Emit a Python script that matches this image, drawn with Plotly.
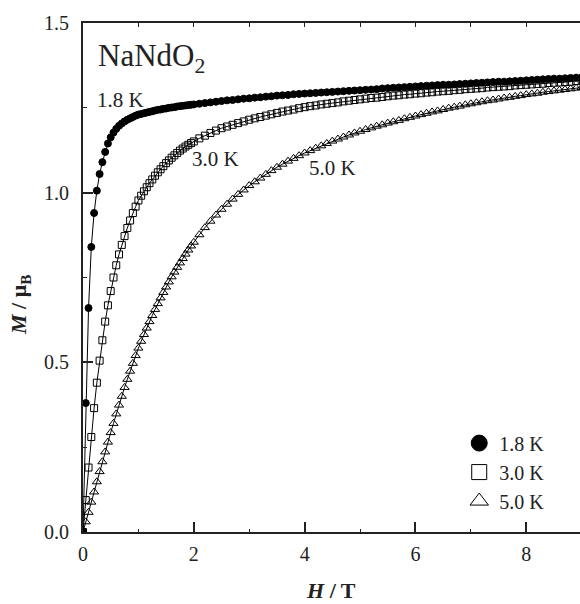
import plotly.graph_objects as go

# Magnetic field grid (T)
H = [0.0, 0.05, 0.1, 0.15, 0.2, 0.25, 0.3, 0.35, 0.4, 0.45, 0.5, 0.55, 0.6, 0.65, 0.7, 0.75, 0.8, 0.85, 0.9, 0.95,
     1.0, 1.05, 1.1, 1.15, 1.2, 1.25, 1.3, 1.35, 1.4, 1.45, 1.5, 1.55, 1.6, 1.65, 1.7, 1.75, 1.8, 1.85, 1.9, 1.95,
     2.0, 2.1, 2.2, 2.3, 2.4, 2.5, 2.6, 2.7, 2.8, 2.9, 3.0, 3.1, 3.2, 3.3, 3.4, 3.5, 3.6, 3.7, 3.8, 3.9,
     4.0, 4.1, 4.2, 4.3, 4.4, 4.5, 4.6, 4.7, 4.8, 4.9, 5.0, 5.1, 5.2, 5.3, 5.4, 5.5, 5.6, 5.7, 5.8, 5.9,
     6.0, 6.1, 6.2, 6.3, 6.4, 6.5, 6.6, 6.7, 6.8, 6.9, 7.0, 7.1, 7.2, 7.3, 7.4, 7.5, 7.6, 7.7, 7.8, 7.9,
     8.0, 8.1, 8.2, 8.3, 8.4, 8.5, 8.6, 8.7, 8.8, 8.9, 9.0]

M_18K = [0.0, 0.38, 0.66, 0.84, 0.94, 1.006, 1.055, 1.09, 1.12, 1.145, 1.163, 1.177, 1.188, 1.197, 1.204, 1.210, 1.215, 1.219, 1.223, 1.227,
         1.230, 1.232, 1.234, 1.236, 1.238, 1.240, 1.242, 1.244, 1.245, 1.247, 1.248, 1.250, 1.251, 1.252, 1.254, 1.255, 1.256, 1.257, 1.258, 1.259,
         1.260, 1.262, 1.264, 1.266, 1.268, 1.270, 1.272, 1.273, 1.275, 1.277, 1.278, 1.280, 1.281, 1.283, 1.284, 1.286, 1.287, 1.288, 1.290, 1.291,
         1.292, 1.293, 1.294, 1.295, 1.296, 1.297, 1.298, 1.299, 1.300, 1.301, 1.302, 1.303, 1.304, 1.305, 1.307, 1.308, 1.309, 1.310, 1.311, 1.312,
         1.313, 1.314, 1.315, 1.316, 1.317, 1.318, 1.318, 1.319, 1.320, 1.321, 1.322, 1.323, 1.324, 1.325, 1.326, 1.327, 1.327, 1.328, 1.329, 1.330,
         1.331, 1.332, 1.333, 1.334, 1.335, 1.336, 1.336, 1.337, 1.338, 1.339, 1.340]

M_30K = [0.0, 0.094, 0.19, 0.28, 0.365, 0.44, 0.505, 0.565, 0.62, 0.668, 0.71, 0.75, 0.786, 0.818, 0.846, 0.872, 0.896, 0.918, 0.94, 0.959,
         0.977, 0.991, 1.004, 1.016, 1.028, 1.039, 1.050, 1.060, 1.069, 1.078, 1.087, 1.095, 1.103, 1.110, 1.117, 1.124, 1.130, 1.136, 1.141, 1.146,
         1.151, 1.160, 1.168, 1.176, 1.183, 1.190, 1.195, 1.200, 1.205, 1.210, 1.215, 1.219, 1.223, 1.227, 1.231, 1.235, 1.239, 1.242, 1.245, 1.249,
         1.252, 1.255, 1.257, 1.260, 1.262, 1.264, 1.266, 1.269, 1.271, 1.273, 1.275, 1.277, 1.279, 1.280, 1.282, 1.284, 1.286, 1.287, 1.289, 1.290,
         1.292, 1.293, 1.295, 1.296, 1.298, 1.299, 1.300, 1.302, 1.303, 1.305, 1.306, 1.307, 1.308, 1.310, 1.311, 1.312, 1.313, 1.314, 1.316, 1.317,
         1.318, 1.319, 1.320, 1.321, 1.323, 1.324, 1.325, 1.326, 1.327, 1.329, 1.330]

M_50K = [0.0, 0.03, 0.058, 0.088, 0.118, 0.148, 0.178, 0.207, 0.236, 0.265, 0.293, 0.32, 0.348, 0.374, 0.40, 0.426, 0.45, 0.474, 0.497, 0.52,
         0.542, 0.562, 0.582, 0.601, 0.620, 0.638, 0.656, 0.673, 0.690, 0.706, 0.722, 0.737, 0.752, 0.766, 0.780, 0.793, 0.806, 0.819, 0.831, 0.843,
         0.854, 0.876, 0.897, 0.916, 0.934, 0.951, 0.966, 0.981, 0.995, 1.008, 1.021, 1.032, 1.043, 1.054, 1.065, 1.075, 1.084, 1.093, 1.101, 1.109,
         1.117, 1.124, 1.131, 1.138, 1.145, 1.152, 1.158, 1.164, 1.170, 1.176, 1.181, 1.186, 1.191, 1.196, 1.200, 1.205, 1.209, 1.213, 1.218, 1.222,
         1.226, 1.230, 1.234, 1.238, 1.241, 1.245, 1.249, 1.252, 1.255, 1.259, 1.262, 1.265, 1.268, 1.271, 1.273, 1.276, 1.279, 1.281, 1.284, 1.286,
         1.289, 1.291, 1.293, 1.296, 1.298, 1.300, 1.302, 1.304, 1.306, 1.308, 1.310]

SERIES_NAMES = ["1.8 K", "3.0 K", "5.0 K"]
X_TICKS = [0, 2, 4, 6, 8]
Y_TICKS = [0.0, 0.5, 1.0, 1.5]
Y_TICK_TEXT = ["0.0", "0.5", "1.0", "1.5"]

FONT = "Liberation Serif, Times New Roman, serif"
W, HT = 580, 604
L, R, T, B = 83, 0, 23, 72
XMAX = 8.97

fig = go.Figure()

styles = [
    dict(symbol="circle", size=7, color="black", line=dict(color="black", width=1)),
    dict(symbol="square-open", size=7, color="black", line=dict(color="black", width=1)),
    dict(symbol="triangle-up-open", size=8, color="black", line=dict(color="black", width=1)),
]
legend_styles = [
    dict(symbol="circle", size=16, color="black", line=dict(color="black", width=1)),
    dict(symbol="square-open", size=15, color="black", line=dict(color="black", width=1)),
    dict(symbol="triangle-up-open", size=16, color="black", line=dict(color="black", width=1)),
]

for M, name, st in zip([M_18K, M_30K, M_50K], SERIES_NAMES, styles):
    fig.add_trace(go.Scatter(x=H, y=M, mode="lines+markers", name=name, showlegend=False,
                             line=dict(color="black", width=1), marker=st, cliponaxis=True))

for name, st in zip(SERIES_NAMES, legend_styles):
    fig.add_trace(go.Scatter(x=[None], y=[None], mode="markers", name=name, marker=st, showlegend=True))

# invisible trace to activate top axis
fig.add_trace(go.Scatter(x=[None], y=[None], xaxis="x2", yaxis="y", showlegend=False, hoverinfo="skip"))

fig.update_layout(
    width=W, height=HT,
    margin=dict(l=L, r=R, t=T, b=B),
    paper_bgcolor="white", plot_bgcolor="white",
    font=dict(family=FONT, color="#222", size=19),
    xaxis=dict(range=[0, XMAX], tickvals=X_TICKS, ticks="inside", ticklen=10, tickwidth=1.5,
               tickcolor="#222", showline=True, linecolor="#222", linewidth=2, showgrid=False,
               zeroline=False, mirror=False, tickfont=dict(size=20, family=FONT),
               minor=dict(dtick=1, ticks="inside", ticklen=3, tickwidth=1, tickcolor="#222"),
               ticklabelstandoff=3),
    xaxis2=dict(range=[0, XMAX], overlaying="x", side="top", anchor="y", dtick=1, ticks="inside",
                ticklen=4, tickwidth=1, tickcolor="#222", showline=True, linecolor="#222", linewidth=2,
                showticklabels=False, showgrid=False, zeroline=False),
    yaxis=dict(range=[0, 1.5], tickvals=Y_TICKS, ticktext=Y_TICK_TEXT, ticks="inside", ticklen=10,
               tickwidth=1.5, tickcolor="#222", showline=True, linecolor="#222", linewidth=2,
               showgrid=False, zeroline=False, mirror=False, tickfont=dict(size=20, family=FONT),
               minor=dict(dtick=0.25, ticks="inside", ticklen=4, tickwidth=1, tickcolor="#222"),
               ticklabelstandoff=8),
    legend=dict(x=0.757, y=0.213, xanchor="left", yanchor="top", bgcolor="rgba(0,0,0,0)",
                font=dict(size=20, family=FONT, color="#222"), tracegroupgap=0, itemsizing="trace"),
    showlegend=True,
)

def px_to_paper_x(px):
    return (px - L) / (W - L - R)

def px_to_paper_y(py):
    return (HT - B - py) / (HT - T - B)

annots = [
    dict(text="NaNdO<sub>2</sub>", x=px_to_paper_x(96), y=px_to_paper_y(58), xanchor="left", yanchor="middle",
         font=dict(size=31)),
    dict(text="1.8 K", x=px_to_paper_x(95), y=px_to_paper_y(100), xanchor="left", yanchor="middle",
         font=dict(size=21)),
    dict(text="3.0 K", x=px_to_paper_x(190), y=px_to_paper_y(159), xanchor="left", yanchor="middle",
         font=dict(size=21)),
    dict(text="5.0 K", x=px_to_paper_x(307), y=px_to_paper_y(168), xanchor="left", yanchor="middle",
         font=dict(size=21)),
    dict(text="<b><i>H</i> / T</b>", x=px_to_paper_x(331), y=px_to_paper_y(590), xanchor="center",
         yanchor="middle", font=dict(size=22)),
    dict(text="<b><i>M</i> / μ<sub>B</sub></b>", x=px_to_paper_x(20), y=px_to_paper_y(305), xanchor="center",
         yanchor="middle", textangle=-90, font=dict(size=22)),
]
for a in annots:
    a.update(xref="paper", yref="paper", showarrow=False)
    a["font"].update(family=FONT, color="#222")
fig.update_layout(annotations=annots)

fig.write_html("out.html", config={"displayModeBar": False},
               post_script="document.body.style.margin='0';document.body.style.padding='0';document.body.style.overflow='hidden';")
